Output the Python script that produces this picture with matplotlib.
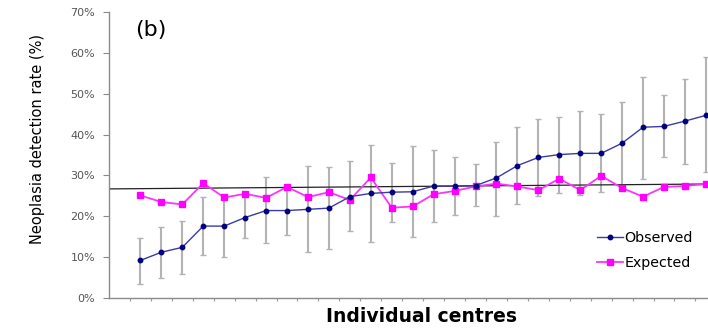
import matplotlib
matplotlib.use("Agg")
import matplotlib.pyplot as plt
import numpy as np

# Neoplasia detection rate per centre, ordered by observed rate (%)
observed = [9.2, 11.2, 12.4, 17.6, 17.6, 19.7, 21.4, 21.4, 21.7, 22.0,
            24.8, 25.6, 25.9, 26.0, 27.4, 27.4, 27.5, 29.4, 32.4, 34.4,
            35.1, 35.4, 35.4, 37.9, 41.8, 42.0, 43.3, 44.7]
expected = [25.1, 23.5, 22.9, 28.1, 24.6, 25.5, 24.5, 27.2, 24.7, 25.9,
            24.0, 29.5, 22.1, 22.4, 25.4, 26.2, 27.3, 28.0, 27.3, 26.4,
            29.2, 26.4, 29.9, 26.9, 24.8, 27.2, 27.4, 27.9]
ci_upper = [14.8, 17.3, 18.8, 24.7, 24.5, 24.9, 29.5, 27.5, 32.3, 32.1,
            33.5, 37.5, 33.1, 37.2, 36.2, 34.6, 32.8, 38.3, 41.8, 43.7,
            44.4, 45.7, 45.0, 48.0, 54.1, 49.6, 53.5, 59.1]
ci_lower = [3.4, 5.0, 5.8, 10.5, 10.0, 14.6, 13.4, 15.4, 11.3, 11.9,
            16.4, 13.7, 18.7, 14.9, 18.6, 20.3, 22.4, 20.1, 23.1, 25.0,
            25.8, 25.2, 26.0, 27.0, 29.2, 34.4, 32.7, 30.8]

# overall rate line (start, end)
overall_rate = [26.7, 27.9]

y_ticks = [0, 10, 20, 30, 40, 50, 60, 70]
y_tick_labels = ["0%", "10%", "20%", "30%", "40%", "50%", "60%", "70%"]

W, H = 708, 329
fig = plt.figure(figsize=(W / 100, H / 100), dpi=100)
ax = fig.add_axes([109 / W, 1 - 298 / H, 1 - 109 / W, (298 - 12) / H])

x = np.arange(len(observed))
obs = np.array(observed)
err = [obs - np.array(ci_lower), np.array(ci_upper) - obs]

# confidence intervals: light bars, darker caps
_, caps, _ = ax.errorbar(x, obs, yerr=err, fmt="none", ecolor="#b3b3b3",
                         elinewidth=1.5, capsize=2.2, capthick=1.0, zorder=1)
for c in caps:
    c.set_color("#555555")

x_min, x_max = -1.5, 27.1
ax.plot([x_min, x_max], overall_rate, color="#222222", lw=0.9, zorder=2)

ax.plot(x, expected, color="#ff33ff", lw=1.3, marker="s", ms=4.5,
        mfc="#ff00ff", mec="#ff00ff", label="Expected", zorder=3)
ax.plot(x, observed, color="#3a3aa8", lw=1.0, marker="o", ms=3.2,
        mfc="#000080", mec="#000080", label="Observed", zorder=4)

ax.set_xlim(x_min, x_max)
ax.set_ylim(0, 70)
ax.set_yticks(y_ticks)
ax.set_yticklabels(y_tick_labels)
ax.set_xticks(np.arange(-0.5, x_max, 1.0))
ax.set_xticklabels([])

for side in ("top", "right"):
    ax.spines[side].set_visible(False)
for side in ("left", "bottom"):
    ax.spines[side].set_color("#8a8a8a")
    ax.spines[side].set_linewidth(1.0)
ax.tick_params(axis="y", length=4, width=0.8, color="#8a8a8a", pad=6,
               labelsize=8, labelcolor="#555555")
ax.tick_params(axis="x", length=2, width=0.8, color="#9a9a9a")

handles, labels = ax.get_legend_handles_labels()
ax.legend(handles[::-1], labels[::-1], loc="upper left", frameon=False,
          bbox_to_anchor=(597 / W, 1 - 231 / H), bbox_transform=fig.transFigure,
          borderpad=0, borderaxespad=0, handlelength=1.8, handletextpad=0.1,
          labelspacing=0.75, fontsize=10.3)

fig.text(151 / W, 1 - 30 / H, "(b)", ha="center", va="center", fontsize=16)
fig.text(38 / W, 1 - 139 / H, "Neoplasia detection rate (%)", rotation=90,
         ha="center", va="center", fontsize=10.5)
fig.text(421 / W, 1 - 317 / H, "Individual centres", ha="center", va="center",
         fontsize=13.5, fontweight="bold")

fig.savefig("out.png", dpi=100)
